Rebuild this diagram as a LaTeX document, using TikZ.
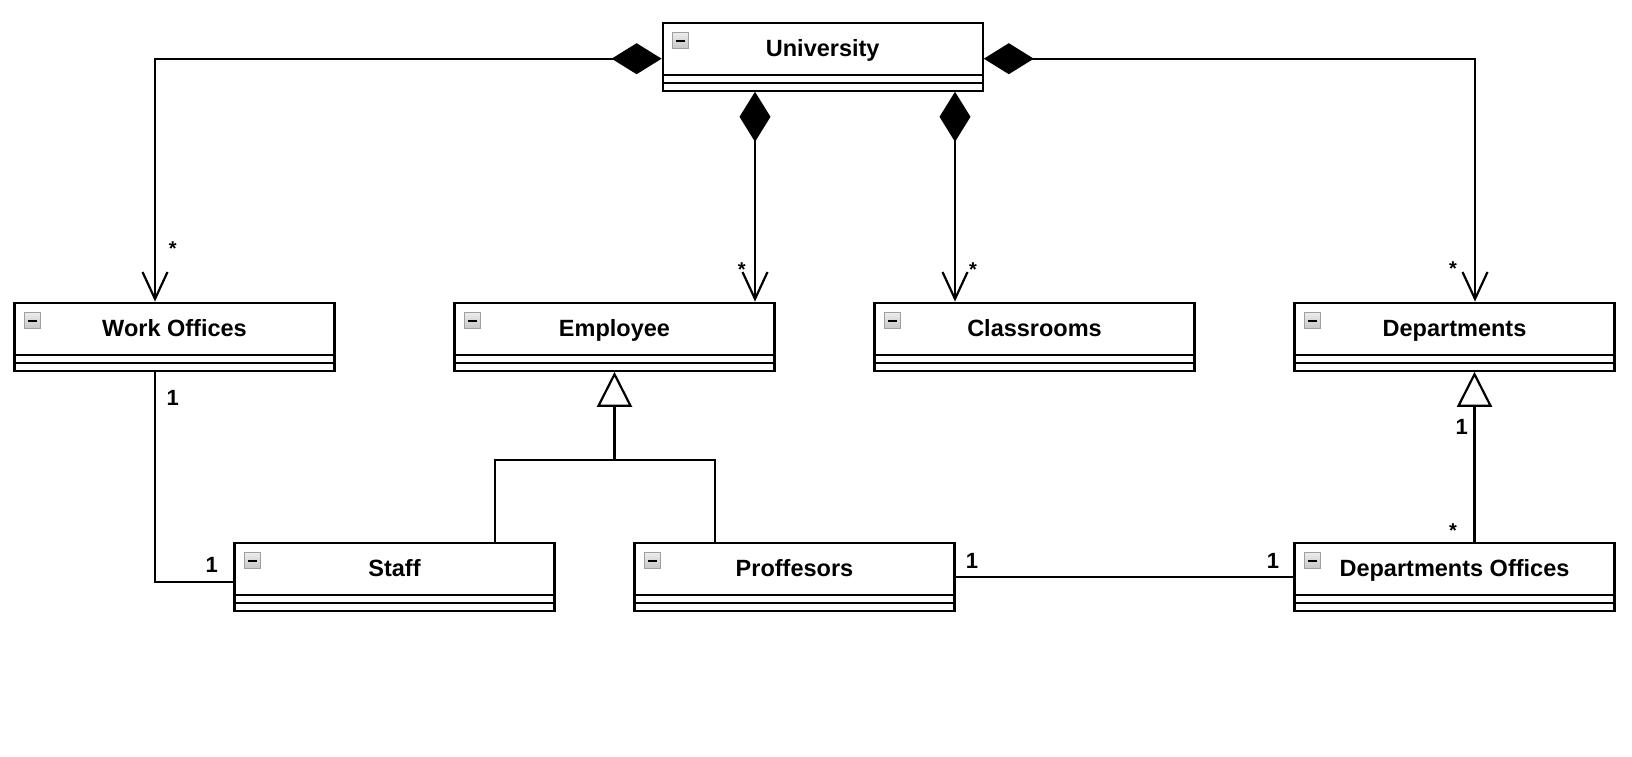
\documentclass[tikz,border=0pt]{standalone}
\usepackage{fontspec}
\setsansfont{Liberation Sans}
\usetikzlibrary{arrows.meta}

\begin{document}
\begin{tikzpicture}[x=1pt, y=-1pt, line width=2.2pt,
class_style/.style={rectangle, draw=black, fill=white, minimum width=320pt, minimum height=68pt, inner sep=0pt,
  text height=10pt, text depth=10pt, font=\sffamily\bfseries\fontsize{23.5}{26}\selectfont,
  path picture={
    \draw[line width=2.2pt] ([shift={(0,52)}]path picture bounding box.north west) -- ([shift={(0,52)}]path picture bounding box.north east);
    \draw[line width=2.2pt] ([shift={(0,60)}]path picture bounding box.north west) -- ([shift={(0,60)}]path picture bounding box.north east);
    \shadedraw[top color=gray!15, bottom color=gray!45, draw=gray!75, line width=1.4pt] ([shift={(10,10)}]path picture bounding box.north west) rectangle ++(16,16);
    \draw[line width=2.2pt] ([shift={(13.5,18)}]path picture bounding box.north west) -- ++(9,0);
  }},
comp_edge/.style={draw=black, {Diamond[length=50pt, width=31pt]}-{Straight Barb[length=27pt, width=25pt]}},
gen_edge/.style={draw=black, -{Triangle[open, length=35pt, width=35pt]}},
assoc_edge/.style={draw=black},
mult_star/.style={anchor=base, inner sep=0pt, font=\sffamily\bfseries\fontsize{20}{22}\selectfont},
mult_one/.style={anchor=base, inner sep=0pt, font=\sffamily\bfseries\fontsize{22}{24}\selectfont}]
\useasboundingbox (0,0) rectangle (1632,756);

% classes
\node[class_style] (uni) at (822.7,56.7) {University};
\node[class_style] (wo) at (174.5,336.7) {Work Offices};
\node[class_style] (emp) at (614.5,336.7) {Employee};
\node[class_style] (cls) at (1034.5,336.7) {Classrooms};
\node[class_style] (dep) at (1454.5,336.7) {Departments};
\node[class_style] (staff) at (394.5,576.7) {Staff};
\node[class_style] (prof) at (794.5,576.7) {Proffesors};
\node[class_style] (dpo) at (1454.5,576.7) {Departments Offices};

% composition
\coordinate (uni_emp) at ([xshift=-67.7pt]uni.south);
\coordinate (uni_cls) at ([xshift=132.3pt]uni.south);
\draw[comp_edge] ([yshift=-2pt]uni.west) -| ([xshift=-19.5pt]wo.north);
\draw[comp_edge] ([yshift=-2pt]uni.east) -| ([xshift=20.5pt]dep.north);
\draw[comp_edge] (uni_emp) -- (uni_emp |- emp.north);
\draw[comp_edge] (uni_cls) -- (uni_cls |- cls.north);

% generalization
\coordinate (emp_join) at (614.5,460);
\draw[gen_edge] ([xshift=100.5pt]staff.north) |- (emp_join) -- (emp.south);
\draw[assoc_edge] ([xshift=-79.8pt]prof.north) |- (emp_join);
\draw[gen_edge] ([xshift=20pt]dpo.north) -- ([xshift=20pt]dep.south);

% associations
\draw[assoc_edge] ([xshift=-19.5pt]wo.south) |- ([yshift=-5.3pt]staff.west);
\draw[assoc_edge] (prof) -- (dpo);

% multiplicities
\node[mult_star] (m_wo_star) at (172.7,255.4) {*};
\node[mult_one] (m_wo_one) at (172.7,405.9) {1};
\node[mult_one] (m_staff_one) at (211.7,572.9) {1};
\node[mult_star] (m_emp_star) at (741.7,276.4) {*};
\node[mult_star] (m_cls_star) at (973,276.4) {*};
\node[mult_star] (m_dep_star) at (1453,275.4) {*};
\node[mult_one] (m_dep_one) at (1461.7,434.6) {1};
\node[mult_star] (m_dpo_star) at (1453,537.1) {*};
\node[mult_one] (m_prof_one) at (972,568.6) {1};
\node[mult_one] (m_dpo_one) at (1273,568.6) {1};
\end{tikzpicture}
\end{document}
